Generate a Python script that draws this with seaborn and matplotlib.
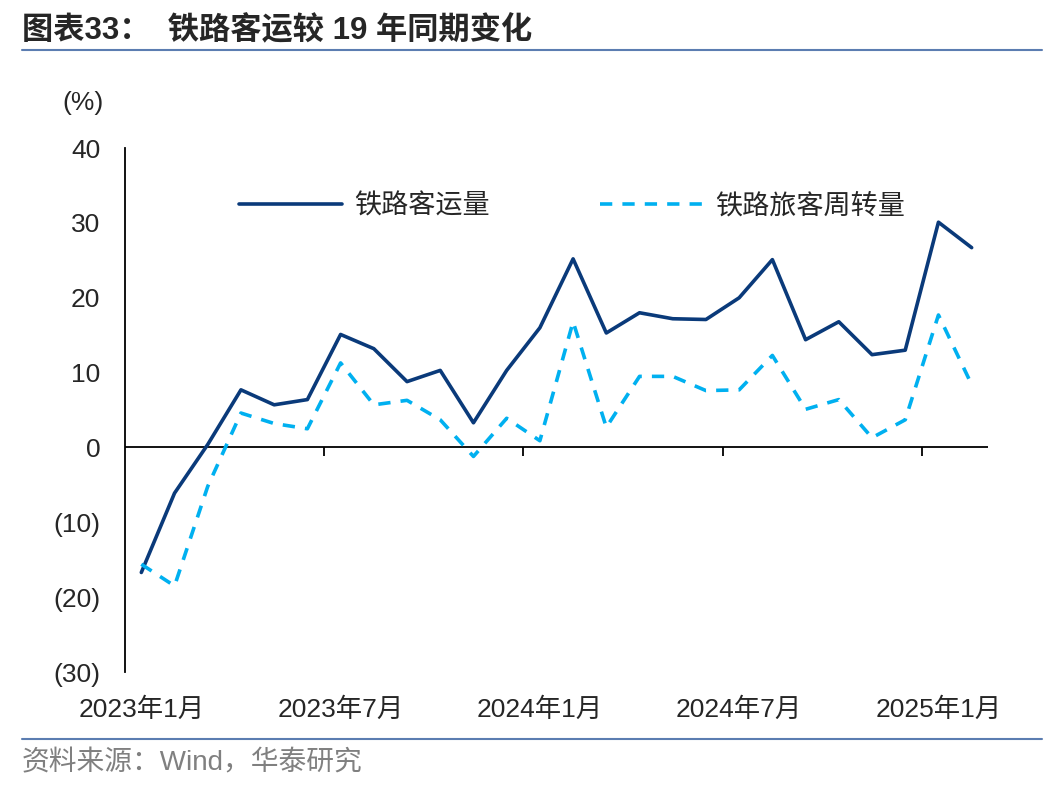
import numpy as np
import matplotlib.pyplot as plt
import pandas as pd
import seaborn as sns
from matplotlib.lines import Line2D

# monthly data, 2023-01 .. 2025-02 (% vs same period of 2019)
months = pd.date_range('2023-01-01', periods=26, freq='MS').strftime('%Y-%m').tolist()
passenger_volume = [-16.7, -6.1, 0.4, 7.7, 5.7, 6.4, 15.1, 13.2, 8.8, 10.3, 3.3, 10.3, 16.0,
                    25.2, 15.3, 18.0, 17.2, 17.1, 20.0, 25.1, 14.4, 16.8, 12.4, 13.0, 30.1, 26.7]
passenger_km = [-15.6, -18.5, -5.2, 4.6, 3.2, 2.5, 11.3, 5.7, 6.3, 3.7, -1.2, 3.9, 0.9,
                16.8, 2.7, 9.5, 9.5, 7.6, 7.7, 12.3, 5.1, 6.4, 1.3, 3.7, 17.7, 8.4]
series_names = ['铁路客运量', '铁路旅客周转量']
tick_pos = [0, 6, 12, 18, 24]
tick_labels = ['2023年1月', '2023年7月', '2024年1月', '2024年7月', '2025年1月']
ytick_vals = [-30, -20, -10, 0, 10, 20, 30, 40]

df = pd.DataFrame({
    'idx': list(range(len(months))) * 2,
    'value': passenger_volume + passenger_km,
    'series': [series_names[0]] * len(months) + [series_names[1]] * len(months),
})

sns.set_style('white')
plt.rcParams['font.family'] = ['Liberation Sans', 'Noto Sans CJK SC']

fig = plt.figure(figsize=(10.48, 7.92), dpi=100)
ax = fig.add_axes([0.119, 0.1515, 0.824, 0.6615])

sns.lineplot(data=df, x='idx', y='value', hue='series', style='series',
             palette={series_names[0]: '#0a3a7a', series_names[1]: '#00b0f0'},
             dashes={series_names[0]: '', series_names[1]: (3.4, 2.8)},
             linewidth=2.6, legend=False, ax=ax)

ax.set_xlim(-0.5, len(months) - 0.5)
ax.set_ylim(-30, 40)
ax.set_yticks(ytick_vals)
ax.set_yticklabels([f'({-v})' if v < 0 else str(v) for v in ytick_vals])
ax.set_xticks(tick_pos)
ax.set_xticklabels(tick_labels)
ax.set_xlabel('')
ax.set_ylabel('')
ax.tick_params(axis='y', direction='out', length=6.5, width=1.3, color='black', labelsize=19, pad=11)
ax.tick_params(axis='x', length=0, labelsize=19, pad=18)
for s in ['top', 'right', 'bottom']:
    ax.spines[s].set_visible(False)
ax.spines['left'].set_color('black')
ax.spines['left'].set_linewidth(1.3)

# zero line with category boundary ticks
ax.axhline(0, color='black', lw=1.3, zorder=1)
ax.vlines([5.5, 11.5, 17.5, 23.5], -1.1, 0, color='black', lw=1.3)

ax.legend(handles=ax.lines[:2], labels=series_names, ncol=2, frameon=False,
          loc='center', bbox_to_anchor=(0.518, 0.888), fontsize=19.5,
          handlelength=3.8, columnspacing=4.1, handletextpad=0.45)

fig.text(62 / 1048, 1 - 103 / 792, '(%)', fontsize=19, va='center', ha='left')
fig.text(22 / 1048, 1 - 31 / 792, '图表33：  铁路客运较 19 年同期变化', fontsize=22.5,
         fontweight='bold', va='center', ha='left')
fig.text(22 / 1048, 1 - 763 / 792, '资料来源：Wind，华泰研究', fontsize=20,
         color='#808080', va='center', ha='left')
fig.add_artist(Line2D([22 / 1048, 1042 / 1048], [1 - 50 / 792] * 2, color='#5b7db1', lw=1.5))
fig.add_artist(Line2D([22 / 1048, 1042 / 1048], [1 - 739 / 792] * 2, color='#5b7db1', lw=1.5))

fig.savefig('out.png', dpi=100)
